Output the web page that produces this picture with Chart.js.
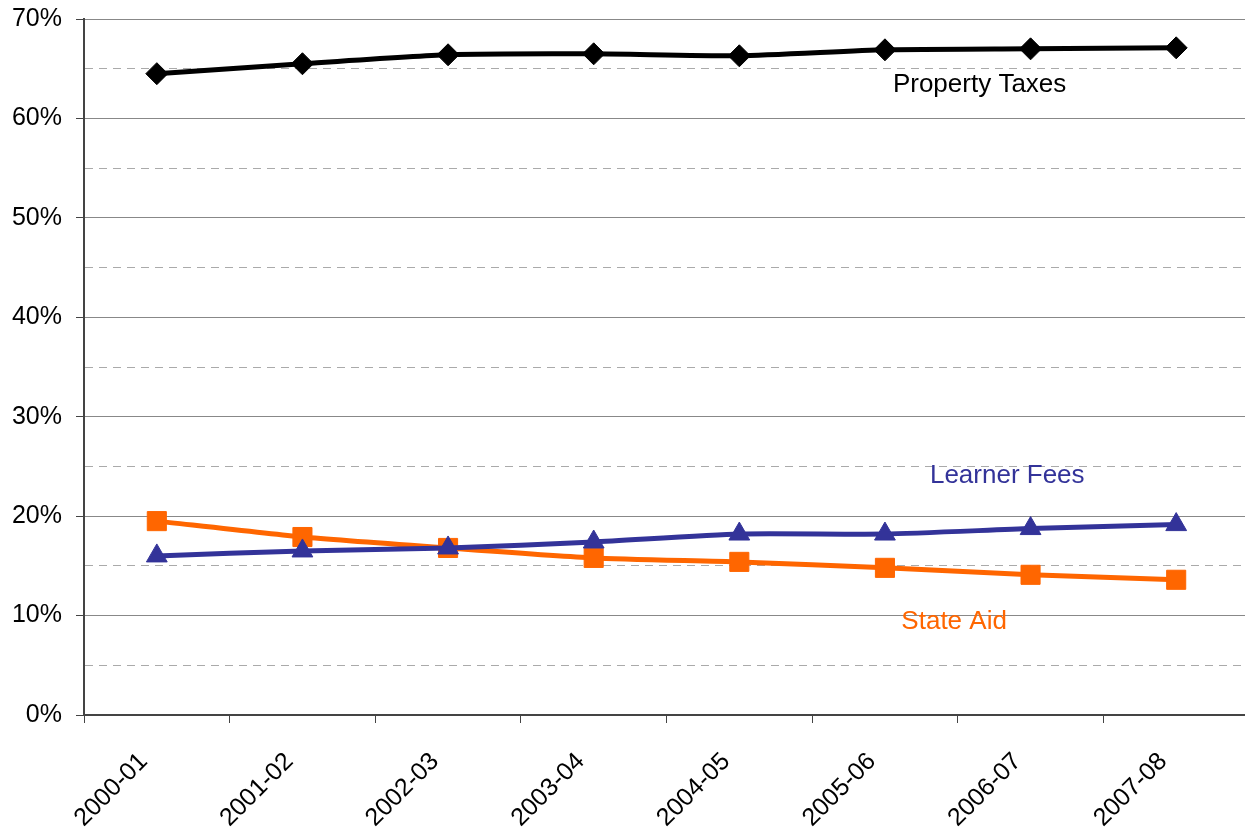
<!DOCTYPE html>
<html>
<head>
<meta charset="utf-8">
<script src="https://cdn.jsdelivr.net/npm/chart.js@4"></script>
<style>
  html, body { margin: 0; padding: 0; background: #fff; overflow: hidden; }
  #wrap { width: 1249px; height: 828px; }
</style>
</head>
<body>
<div id="wrap"><canvas id="myChart"></canvas></div>
<script>
const years = ["2000-01", "2001-02", "2002-03", "2003-04", "2004-05", "2005-06", "2006-07", "2007-08"];
const propertyTaxes = [64.5, 65.5, 66.4, 66.5, 66.3, 66.9, 67.0, 67.1];
const learnerFees = [16.0, 16.5, 16.8, 17.4, 18.2, 18.2, 18.75, 19.15];
const stateAid = [19.5, 17.9, 16.8, 15.8, 15.4, 14.8, 14.1, 13.6];

// series labels placed next to the lines: [text, category position, value, colour]
const seriesLabels = [
  ["Property Taxes", 5.65, 63.4, "#000000"],
  ["Learner Fees", 5.84, 24.1, "#333399"],
  ["State Aid", 5.475, 9.35, "#FF6600"],
];

const labelPlugin = {
  id: "seriesLabels",
  afterDatasetsDraw(chart) {
    const { ctx, scales } = chart;
    ctx.save();
    ctx.font = "26px 'Liberation Sans', Arial, sans-serif";
    ctx.textAlign = "center";
    ctx.textBaseline = "middle";
    seriesLabels.forEach(([text, idx, val, color]) => {
      ctx.fillStyle = color;
      ctx.fillText(text, scales.x.getPixelForValue(idx), scales.y.getPixelForValue(val));
    });
    ctx.restore();
  },
};

const ctx = document.getElementById("myChart");

new Chart(ctx, {
  type: "line",
  data: {
    labels: years,
    datasets: [
      {
        label: "Property Taxes",
        data: propertyTaxes,
        borderColor: "#000000",
        backgroundColor: "#000000",
        borderWidth: 5,
        pointStyle: "rectRot",
        pointRadius: 11,
        pointBorderWidth: 1,
        tension: 0.2,
        clip: false,
      },
      {
        label: "Learner Fees",
        data: learnerFees,
        borderColor: "#333399",
        backgroundColor: "#333399",
        borderWidth: 5,
        pointStyle: "triangle",
        pointRadius: 12,
        pointBorderWidth: 1,
        tension: 0.2,
        clip: false,
      },
      {
        label: "State Aid",
        data: stateAid,
        borderColor: "#FF6600",
        backgroundColor: "#FF6600",
        borderWidth: 5,
        pointStyle: "rect",
        pointRadius: 13.5,
        pointBorderWidth: 1,
        tension: 0.2,
        clip: false,
      },
    ],
  },
  options: {
    responsive: true,
    maintainAspectRatio: false,
    animation: false,
    layout: { autoPadding: false, padding: { top: 19, right: 0, left: 0, bottom: 0 } },
    plugins: {
      legend: { display: false },
      tooltip: { enabled: false },
    },
    scales: {
      x: {
        offset: true,
        afterFit(scale) {
          scale.height = 113;
          scale.paddingLeft = 0;
          scale.paddingRight = 0;
        },
        grid: {
          offset: true,
          drawOnChartArea: false,
          tickLength: 8,
          tickColor: "#444",
          tickWidth: 1,
        },
        border: { color: "#444", width: 2 },
        ticks: {
          color: "#000",
          minRotation: 45,
          maxRotation: 45,
          padding: 24,
          labelOffset: -13,
          font: { family: "'Liberation Sans', Arial, sans-serif", size: 25 },
        },
      },
      y: {
        min: 0,
        max: 70,
        afterFit(scale) {
          scale.width = 84;
          scale.paddingTop = 0;
          scale.paddingBottom = 0;
        },
        grid: {
          color: (c) => (c.tick && c.tick.value % 10 !== 0 ? "#aaaaaa" : "#888888"),
          lineWidth: 1,
          tickLength: 8,
          tickColor: (c) => (c.tick && c.tick.value % 10 !== 0 ? "rgba(0,0,0,0)" : "#444"),
        },
        border: {
          color: "#444",
          width: 2,
          dash: (c) => (c.tick && c.tick.value % 10 !== 0 ? [8, 6] : []),
        },
        ticks: {
          stepSize: 5,
          autoSkip: false,
          color: "#000",
          padding: 14,
          font: { family: "'Liberation Sans', Arial, sans-serif", size: 25 },
          callback: (v) => (v % 10 === 0 ? v + "%" : ""),
        },
      },
    },
  },
  plugins: [labelPlugin],
});
</script>
</body>
</html>
